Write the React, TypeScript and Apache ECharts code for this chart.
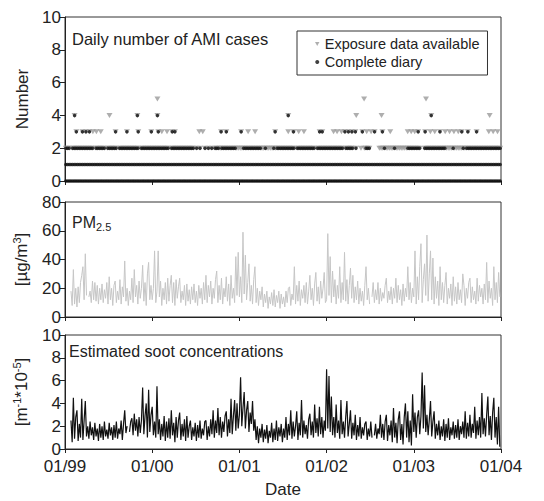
import React, { useEffect, useRef } from "react";
import * as echarts from "echarts";

// ---------- data ----------
const years = [1999, 2000, 2001, 2002, 2003];
const dateTickLabels = ["01/99", "01/00", "01/01", "01/02", "01/03", "01/04"];

// Daily AMI cases, weekly bins per year: b = complete diary (and exposure), g = exposure only, . = none
const casesLevel0 = [
  "bbbbbbbbbbbbbbbbbbbbbbbbbbbbbbbbbbbbbbbbbbbbbbbbbbbb",
  "bbbbbbbbbbbbbbbbbbbbbbbbbbbbbbbbbbbbbbbbbbbbbbbbbbbb",
  "bbbbbbbbbbbbbbbbbbbbbbbbbbbbbbbbbbbbbbbbbbbbbbbbbbbb",
  "bbbbbbbbbbbbbbbbbbbbbbbbbbbbbbbbbbbbbbbbbbbbbbbbbbbb",
  "bbbbbbbbbbbbbbbbbbbbbbbbbbbbbbbbbbbbbbbbbbbbbbbbbbbb",
];
const casesLevel1 = [
  "bbbbbbbbbbbbbbbbbbbbbbbbbbbbbbbbbbbbbbbbbbbbbbbbbbbb",
  "bbbbbbbbbbbbbbbbbbbbbbbbbbbbbbbbbbbbbbbbbbbbbbbbbbbb",
  "bbbbbbbbbbbbbbbbbbbbbbbbbbbbbbbbbbbbbbbbbbbbbbbbbbbb",
  "bbbbbbbbbbbbbbbbbbbbbbbbbbbbbbbbbbbbbbbbbbbbbbbbbbbb",
  "bbbbbbbbbbbbbbbbbbbbbbbbbbbbbbbbbbbbbbbbbbbbbbbbbbbb",
];
const casesLevel2 = [
  "bbb.bbbbbbbbbbbbb.bbbbbb.bbbbbb.bbbbbbbbbbbb.bbbbbbb",
  "bbbbbbbbbb.bbbbbbbbbbbbbb.b.b..b.b.b.bbbgbbbbbbbbbgg",
  "ggbbbbbbbbbbbggbggggbgbbbbbbbbbbb.bbbbbbbbbbb.bbbbbb",
  "bbbbbbbbbb.bbbbb.b..g.gbbb.....gggbgggggbgggggggbbbb",
  "bbbb..bbbbbbbbbbbbbggggbgggggbgbbbbbbbbbbbbbbbbbbbbb",
];
// [years after 01/99, cases] for 3+ cases
const diaryHigh = [
  [0.13, 3], [0.2, 3], [0.24, 3], [0.28, 3], [0.58, 3], [0.71, 3], [0.84, 3], [0.99, 3],
  [1.07, 3], [1.23, 3], [1.26, 3], [1.79, 3], [1.85, 3], [2.02, 3], [2.41, 3], [2.62, 3],
  [2.92, 3], [2.95, 3], [3.21, 3], [3.25, 3], [3.29, 3], [3.33, 3], [3.41, 3], [3.55, 3],
  [3.64, 3], [4.05, 3], [4.13, 3], [4.3, 3], [4.55, 3], [4.62, 3], [4.72, 3],
  [0.11, 4], [0.83, 4], [1.06, 4], [2.56, 4], [4.2, 4],
];
const exposureHigh = [
  [0.32, 3], [0.36, 3], [0.41, 3], [1.11, 3], [1.17, 3], [1.54, 3], [1.58, 3], [2.1, 3],
  [2.18, 3], [2.56, 3], [2.68, 3], [2.74, 3], [3.08, 3], [3.12, 3], [3.17, 3], [3.46, 3],
  [3.51, 3], [3.73, 3], [3.93, 3], [3.97, 3], [4.01, 3], [4.19, 3], [4.24, 3], [4.36, 3],
  [4.41, 3], [4.46, 3], [4.51, 3], [4.86, 3], [4.91, 3], [4.96, 3],
  [0.51, 4], [3.34, 4], [3.63, 4], [4.87, 4],
  [1.06, 5], [3.43, 5], [4.14, 5],
];

// PM2.5 [µg/m3], 73 samples per year (every 5 days)
const pm1999 = [null,null,null,null,null,18,8,33,9,20,7,21,10,24,29,35,12,44,15,null,14,18,10,25,12,24,11,22,9,20,12,23,10,19,13,24,9,28,12,20,8,22,25,10,18,12,26,9,21,14,39,11,20,8,18,12,27,10,33,14,22,9,25,13,20,36,11,24,8,30,38,12,22];
const pm2000 = [12,20,46,10,18,46,14,25,8,20,12,24,9,27,11,22,29,10,24,8,26,13,21,27,10,18,12,22,8,23,11,19,9,21,12,23,10,18,8,22,13,20,9,24,12,29,10,22,14,25,9,20,13,26,32,10,22,12,27,9,20,14,28,11,23,8,29,13,20,10,42,15,45];
const pm2001 = [14,28,10,59,16,43,12,24,37,11,22,9,26,35,10,20,8,18,12,21,7,16,10,18,6,14,9,17,8,19,7,15,10,18,6,16,9,14,7,18,10,20,21,8,16,12,35,9,22,11,25,8,19,13,22,10,24,9,18,29,12,20,8,23,31,11,21,9,25,13,20,31,10];
const pm2002 = [12,58,15,42,10,32,14,26,9,22,13,35,10,24,12,45,11,26,9,22,34,13,29,10,21,12,25,9,20,11,18,8,22,35,12,20,9,null,14,24,10,19,12,24,9,20,11,17,13,22,27,10,18,12,21,9,20,13,27,10,22,12,19,8,23,11,20,14,35,12,24,10,20];
const pm2003 = [14,46,9,28,12,35,51,10,26,37,15,57,11,30,46,12,41,9,28,13,25,8,35,12,24,10,22,31,9,20,13,23,8,28,11,21,9,24,12,19,10,30,22,8,20,13,24,27,10,21,12,18,9,27,11,22,14,20,9,23,12,38,10,25,13,20,8,35,12,24,10,31,14];

// Estimated soot [m-1*10-5], 73 samples per year
const soot1999 = [null,null,null,null,null,2.5,0.6,4.5,0.9,2.8,3.4,0.7,2.2,1.0,4.4,0.8,2.5,4.2,1.1,2.0,0.9,2.4,1.2,1.9,0.8,2.3,1.1,1.8,0.7,2.2,1.0,2.0,0.8,2.4,1.1,1.7,0.9,2.3,1.2,1.9,0.8,2.1,1.0,2.4,0.9,1.8,1.3,2.5,0.8,2.2,3.4,1.4,2.0,null,1.5,2.4,2.7,1.2,3.1,1.6,2.6,1.1,2.8,1.4,2.5,5.4,1.3,2.9,4.0,1.0,5.2,1.5,3.0];
const soot2000 = [3.7,1.2,2.4,1.0,5.5,1.3,2.6,0.8,2.2,1.1,2.9,0.7,2.4,1.0,2.7,0.9,3.4,1.2,2.3,0.6,2.8,1.0,2.5,3.2,0.8,2.2,1.1,2.6,0.7,2.9,1.0,2.0,2.5,0.8,1.9,1.1,2.3,0.7,2.1,1.0,2.5,0.9,1.8,1.2,2.4,2.5,0.8,2.0,1.1,2.6,1.3,3.4,1.0,2.5,1.4,3.6,1.2,2.8,1.0,2.4,1.5,2.9,3.3,1.1,2.6,1.4,4.4,1.3,2.9,4.3,1.6,4.0,1.8];
const soot2001 = [3.0,6.3,2.0,3.6,5.0,1.8,3.4,4.2,1.5,3.2,2.2,4.2,1.6,2.6,0.8,2.0,0.5,1.8,1.0,2.2,0.6,1.7,0.9,2.1,0.5,1.6,1.0,2.3,0.6,1.8,0.8,2.5,0.7,1.9,1.1,2.2,0.6,1.8,1.0,2.8,0.8,2.2,1.2,3.4,0.9,2.4,1.1,2.0,3.3,0.8,2.3,1.2,4.3,1.0,2.5,1.3,2.1,0.9,2.6,3.1,1.2,2.4,1.0,3.9,1.4,2.7,1.1,3.7,1.3,2.8,1.0,2.5,1.6];
const soot2002 = [7.0,1.8,6.4,1.5,4.6,1.2,2.8,1.0,3.9,1.4,2.5,0.9,4.3,1.3,2.4,1.0,2.8,4.2,1.1,2.2,3.4,0.9,2.3,1.2,3.0,0.8,2.1,1.1,2.8,0.9,1.9,1.2,2.2,2.4,0.8,1.8,1.1,2.4,1.0,null,1.2,2.2,0.9,1.8,1.3,3.0,1.0,2.2,0.8,2.4,3.0,0.7,2.1,1.2,2.5,0.6,3.6,1.0,2.3,0.5,2.6,3.3,0.8,2.2,0.4,2.8,4.0,1.0,3.3,0.6,2.5,0.3,4.8];
const soot2003 = [1.5,3.2,1.0,2.8,3.4,1.3,2.9,6.7,1.8,5.6,1.5,3.0,1.2,2.6,4.2,1.1,2.4,3.3,0.9,2.2,1.2,2.5,0.8,2.0,1.1,2.6,0.7,2.2,1.0,2.7,0.8,1.9,1.2,2.4,0.9,2.1,1.0,2.6,0.8,2.0,1.3,2.4,1.0,3.3,0.9,2.3,1.1,3.0,1.0,2.2,1.4,3.7,0.9,2.5,1.2,2.8,1.0,4.9,1.3,2.7,1.1,3.0,4.6,1.2,2.9,0.8,3.2,4.5,1.0,2.8,0.4,3.7,0.2];

const pmByYear = [pm1999, pm2000, pm2001, pm2002, pm2003];
const sootByYear = [soot1999, soot2000, soot2001, soot2002, soot2003];

// ---------- build ----------
const FONT = "'Liberation Sans', Arial, Helvetica, sans-serif";
const TRI = "path://M0,0L10,0L5,9Z";

function buildCases() {
  const exposure: number[][] = [];
  const diary: number[][] = [];
  [casesLevel0, casesLevel1, casesLevel2].forEach((rows, level) => {
    rows.forEach((s, yi) => {
      for (let w = 0; w < s.length; w++) {
        const c = s[w];
        if (c === ".") continue;
        const x = years[yi] + (w + 0.5) / s.length;
        if (c === "g" || level === 2) exposure.push([x, level]);
        if (c === "b") diary.push([x, level]);
      }
    });
  });
  diaryHigh.forEach(([o, l]) => {
    exposure.push([years[0] + o, l]);
    diary.push([years[0] + o, l]);
  });
  exposureHigh.forEach(([o, l]) => exposure.push([years[0] + o, l]));
  return { exposure, diary };
}

function buildSeries(byYear: (number | null)[][]) {
  const out: (number | string)[][] = [];
  byYear.forEach((arr, yi) => {
    arr.forEach((v, i) => {
      out.push([years[yi] + i / arr.length, v === null ? "-" : v]);
    });
  });
  return out;
}

export default function App() {
  const ref = useRef<HTMLDivElement>(null);
  useEffect(() => {
    if (!ref.current) return;
    const chart = echarts.init(ref.current, undefined, { renderer: "svg" });
    const { exposure, diary } = buildCases();
    const axisColor = "#222";
    const tickFont = { fontSize: 17, color: "#222", fontFamily: FONT };
    const grids = [
      { left: 65, top: 17, width: 436, height: 164 },
      { left: 65, top: 202, width: 436, height: 115 },
      { left: 65, top: 335, width: 436, height: 114 },
    ].map((g) => ({ ...g, show: true, borderColor: "#333", borderWidth: 1, backgroundColor: "transparent" }));

    const xAxis = [0, 1, 2].map((i) => ({
      type: "value",
      gridIndex: i,
      min: 1999,
      max: 2004,
      interval: 1,
      axisLine: { show: true, lineStyle: { color: axisColor, width: 1 } },
      axisTick: { show: true, length: 4, lineStyle: { color: axisColor } },
      axisLabel: {
        show: i === 2,
        margin: 9,
        ...tickFont,
        showMaxLabel: true,
        showMinLabel: true,
        formatter: (v: number) => dateTickLabels[Math.round(v - 1999)] ?? "",
      },
      splitLine: { show: false },
      name: i === 2 ? "Date" : "",
      nameLocation: "middle",
      nameGap: 32,
      nameTextStyle: { ...tickFont },
    }));

    const yBase = {
      type: "value",
      axisLine: { show: true, lineStyle: { color: axisColor, width: 1 } },
      axisTick: { show: true, length: 5, lineStyle: { color: axisColor } },
      axisLabel: { margin: 4, ...tickFont },
      splitLine: { show: false },
      nameLocation: "middle",
      nameGap: 34,
    };
    const supRich = { sup: { fontSize: 11, fontFamily: FONT, color: "#222", verticalAlign: "top", lineHeight: 11 } };
    const yAxis = [
      { ...yBase, gridIndex: 0, min: 0, max: 10, interval: 2, name: "Number", nameTextStyle: { ...tickFont } },
      {
        ...yBase, gridIndex: 1, min: 0, max: 80, interval: 20,
        name: "[µg/m{sup|3}]",
        nameTextStyle: { ...tickFont, lineHeight: 20, rich: supRich },
      },
      {
        ...yBase, gridIndex: 2, min: 0, max: 10, interval: 2,
        name: "[m{sup|-1}*10{sup|-5}]",
        nameTextStyle: { ...tickFont, lineHeight: 20, rich: supRich },
      },
    ];

    chart.setOption({
      animation: false,
      backgroundColor: "#fff",
      textStyle: { fontFamily: FONT },
      grid: grids,
      xAxis,
      yAxis,
      legend: {
        left: 297,
        top: 31,
        orient: "vertical",
        backgroundColor: "#fff",
        borderColor: "#333",
        borderWidth: 1,
        borderRadius: 0,
        padding: [5, 8, 5, 18],
        itemGap: 2,
        itemWidth: 5,
        itemHeight: 4,
        textStyle: { fontSize: 14.5, color: "#222", fontFamily: FONT, lineHeight: 16 },
        data: [
          { name: "Exposure data available", icon: TRI },
          { name: "Complete diary", icon: "circle" },
        ],
        selectedMode: false,
      },
      graphic: [
        {
          type: "text", x: 72, y: 39,
          style: { text: "Daily number of AMI cases", fontSize: 16.5, fontFamily: FONT, fill: "#222", verticalAlign: "middle" },
        },
        {
          type: "text", x: 72, y: 222,
          style: {
            text: "{n|PM}{s|2.5}",
            verticalAlign: "middle",
            rich: {
              n: { fontSize: 16, fontFamily: FONT, fill: "#222", lineHeight: 20, verticalAlign: "middle" },
              s: { fontSize: 11, fontFamily: FONT, fill: "#222", lineHeight: 11, verticalAlign: "bottom" },
            },
          },
        },
        {
          type: "text", x: 69, y: 351,
          style: { text: "Estimated soot concentrations", fontSize: 16, fontFamily: FONT, fill: "#222", verticalAlign: "middle" },
        },
      ],
      series: [
        {
          name: "Exposure data available",
          type: "scatter",
          xAxisIndex: 0, yAxisIndex: 0,
          symbol: TRI,
          symbolSize: [6, 5],
          itemStyle: { color: "#9a9a9a" },
          data: exposure,
          silent: true,
        },
        {
          name: "Complete diary",
          type: "scatter",
          xAxisIndex: 0, yAxisIndex: 0,
          symbol: "circle",
          symbolSize: 3.5,
          itemStyle: { color: "#111" },
          data: diary,
          silent: true,
        },
        {
          name: "PM2.5",
          type: "line",
          xAxisIndex: 1, yAxisIndex: 1,
          showSymbol: false,
          symbol: "none",
          lineStyle: { color: "#c6c6c6", width: 1 },
          data: buildSeries(pmByYear),
          silent: true,
        },
        {
          name: "Soot",
          type: "line",
          xAxisIndex: 2, yAxisIndex: 2,
          showSymbol: false,
          symbol: "none",
          lineStyle: { color: "#111", width: 1.2 },
          data: buildSeries(sootByYear),
          silent: true,
        },
      ],
    });
    return () => chart.dispose();
  }, []);
  return <div ref={ref} style={{ position: "fixed", left: 0, top: 0, width: 544, height: 501 }} />;
}
